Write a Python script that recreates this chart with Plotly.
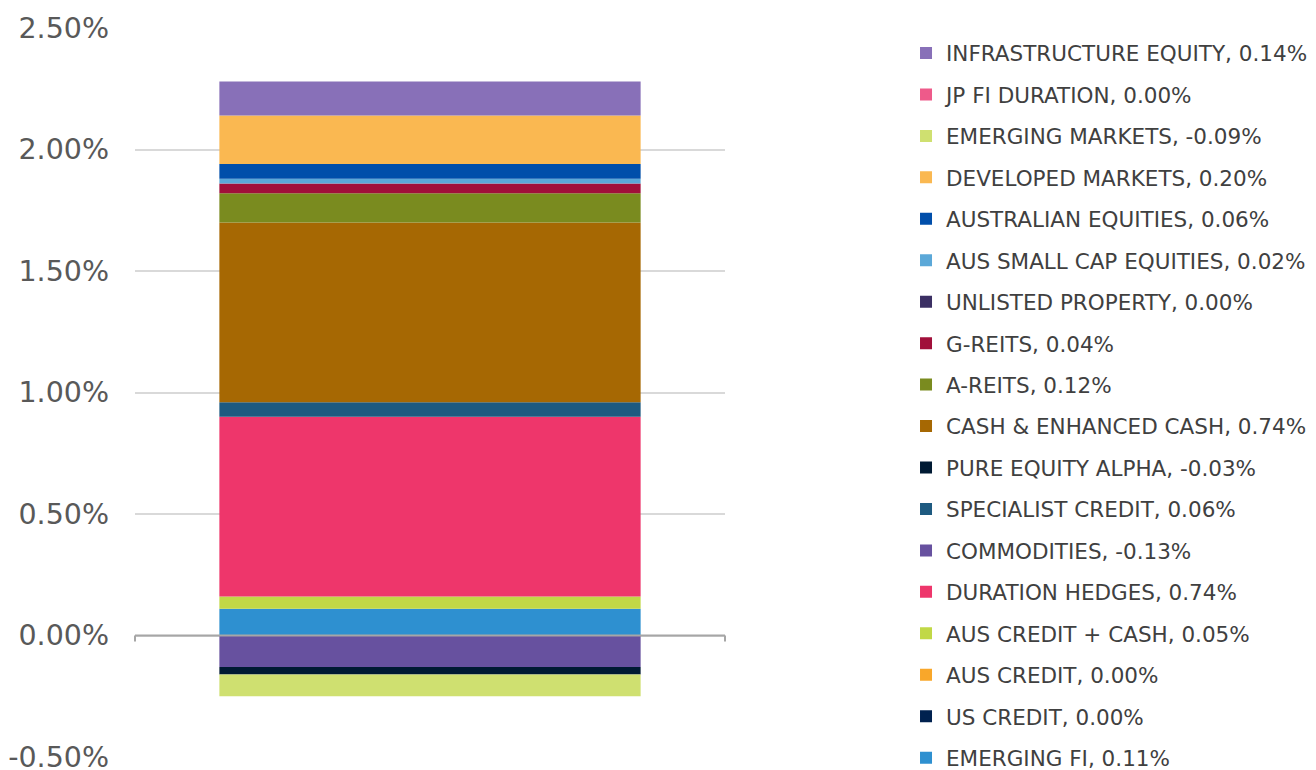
import plotly.graph_objects as go

categories = [""]
series_names = [
    "EMERGING FI", "US CREDIT", "AUS CREDIT", "AUS CREDIT + CASH", "DURATION HEDGES",
    "COMMODITIES", "SPECIALIST CREDIT", "PURE EQUITY ALPHA", "CASH & ENHANCED CASH",
    "A-REITS", "G-REITS", "UNLISTED PROPERTY", "AUS SMALL CAP EQUITIES",
    "AUSTRALIAN EQUITIES", "DEVELOPED MARKETS", "EMERGING MARKETS", "JP FI DURATION",
    "INFRASTRUCTURE EQUITY",
]
# values in percent
series_values = [
    0.11, 0.00, 0.00, 0.05, 0.74,
    -0.13, 0.06, -0.03, 0.74,
    0.12, 0.04, 0.00, 0.02,
    0.06, 0.20, -0.09, 0.00,
    0.14,
]
series_colors = [
    "#2E90D0", "#00214F", "#F9A72A", "#C1D846", "#EE366B",
    "#67519F", "#1E5A80", "#001A33", "#A66803",
    "#7A8B1F", "#A10F3A", "#3B2F63", "#5BA8D8",
    "#004EAA", "#FAB851", "#CFE070", "#EE5A8A",
    "#8870B8",
]
tick_vals = [-0.5, 0.0, 0.5, 1.0, 1.5, 2.0, 2.5]
tick_text = ["-0.50%", "0.00%", "0.50%", "1.00%", "1.50%", "2.00%", "2.50%"]

FONT = "DejaVu Sans"

fig = go.Figure()
n = len(series_names)
for i, (name, val, col) in enumerate(zip(series_names, series_values, series_colors)):
    fig.add_trace(go.Bar(
        x=categories, y=[val], name=f"{name}, {val:.2f}%",
        marker=dict(color=col, line=dict(width=0)),
        legendgroup=name, legendrank=n - i,
    ))

fig.update_layout(
    width=1316, height=790,
    barmode="relative", bargap=0.286,
    plot_bgcolor="white", paper_bgcolor="white",
    margin=dict(l=127, r=599, t=20, b=41, autoexpand=False),
    font=dict(family=FONT, color="#595959"),
    showlegend=True,
    legend=dict(
        traceorder="grouped", tracegroupgap=10.5,
        x=1.3068, xanchor="left", y=0.9938, yanchor="top",
        font=dict(family=FONT, size=21.5, color="#404040"),
        itemwidth=30, maxheight=785,
    ),
    xaxis=dict(showticklabels=False, showgrid=False, zeroline=False, showline=False,
               automargin=False),
    yaxis=dict(
        range=[-0.5, 2.5], tickvals=tick_vals, ticktext=tick_text,
        tickfont=dict(family=FONT, size=28.5, color="#595959"),
        showgrid=True, gridcolor="#D9D9D9", gridwidth=1.5,
        zeroline=False, showline=False, ticks="", ticklabelstandoff=25,
        automargin=False,
    ),
    shapes=[
        dict(type="line", xref="paper", yref="y", x0=0, x1=1, y0=0, y1=0,
             line=dict(color="#A6A6A6", width=2), layer="above"),
        dict(type="line", xref="paper", yref="y", x0=0, x1=0, y0=0, y1=-0.025,
             line=dict(color="#A6A6A6", width=2), layer="above"),
        dict(type="line", xref="paper", yref="y", x0=1, x1=1, y0=0, y1=-0.025,
             line=dict(color="#A6A6A6", width=2), layer="above"),
    ],
)

fig.write_html("out.html")
